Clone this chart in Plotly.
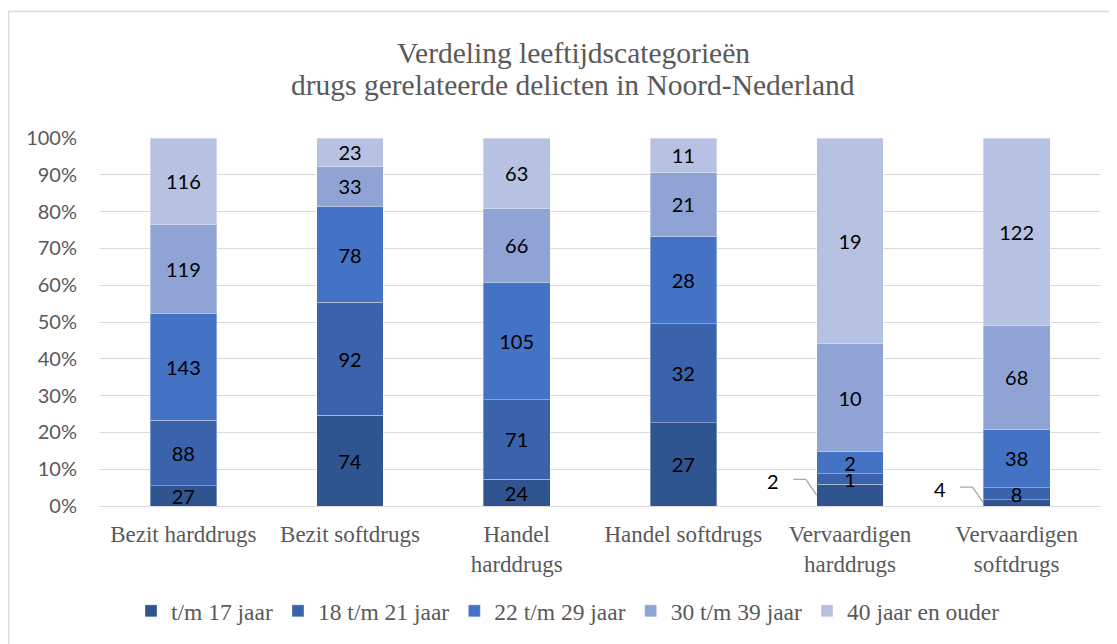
import plotly.graph_objects as go

categories = ["Bezit harddrugs", "Bezit softdrugs", "Handel<br>harddrugs",
              "Handel softdrugs", "Vervaardigen<br>harddrugs", "Vervaardigen<br>softdrugs"]
series_names = ["t/m 17 jaar", "18 t/m 21 jaar", "22 t/m 29 jaar", "30 t/m 39 jaar", "40 jaar en ouder"]
tm17 = [27, 74, 24, 27, 2, 4]
j18_21 = [88, 92, 71, 32, 1, 8]
j22_29 = [143, 78, 105, 28, 2, 38]
j30_39 = [119, 33, 66, 21, 10, 68]
j40plus = [116, 23, 63, 11, 19, 122]
ytick_vals = [0, 10, 20, 30, 40, 50, 60, 70, 80, 90, 100]
ytick_text = ["0%", "10%", "20%", "30%", "40%", "50%", "60%", "70%", "80%", "90%", "100%"]
title_lines = ["Verdeling leeftijdscategorieën", "drugs gerelateerde delicten in Noord-Nederland"]
# labels of the first segment drawn outside the bar with a leader line
outside_label_cats = [4, 5]

colors = ["#30548F", "#3A63AB", "#4472C4", "#8FA4D5", "#B7C2E3"]
series = [tm17, j18_21, j22_29, j30_39, j40plus]
xs = list(range(len(categories)))
totals = [sum(s[i] for s in series) for i in xs]

SANS = "Lato, Liberation Sans, sans-serif"
SERIF = "Liberation Serif, Times New Roman, serif"

fig = go.Figure()
for k, (name, vals) in enumerate(zip(series_names, series)):
    texts = []
    for i, v in enumerate(vals):
        if k == 0 and i in outside_label_cats:
            texts.append("")
        else:
            texts.append(str(v))
    fig.add_trace(go.Bar(
        x=xs, y=vals, name=name, text=texts,
        marker=dict(color=colors[k], line=dict(color="rgba(255,255,255,0.35)", width=1)),
        width=0.4, textposition="inside", insidetextanchor="middle", textangle=0,
        textfont=dict(family=SANS, size=20, color="#000000"),
        hoverinfo="skip",
    ))

# leader lines and outside labels
for i in outside_label_cats:
    mid = tm17[i] / totals[i] * 100 / 2
    yh = mid + 4.3
    fig.add_trace(go.Scatter(
        x=[i - 0.34, i - 0.265, i - 0.2], y=[yh, yh, mid], mode="lines",
        line=dict(color="#A6A6A6", width=1.3), showlegend=False, hoverinfo="skip"))
    fig.add_annotation(x=i - 0.34, y=yh, xref="x", yref="y", text=str(tm17[i]),
                       showarrow=False, xanchor="right", yanchor="middle", xshift=-12, yshift=-2,
                       font=dict(family=SANS, size=20, color="#000000"))

# two-line title as separate annotations (tight line spacing)
for line, ty in zip(title_lines, [1.232, 1.143]):
    fig.add_annotation(x=0.473, y=ty, xref="paper", yref="paper", text=line, showarrow=False,
                       xanchor="center", yanchor="middle",
                       font=dict(family=SERIF, size=29.5, color="#595959"))

fig.update_layout(
    barmode="stack", barnorm="percent",
    width=1109, height=636,
    margin=dict(l=92, r=17, t=130, b=137),
    paper_bgcolor="white", plot_bgcolor="white",
    xaxis=dict(tickvals=xs, ticktext=categories, range=[-0.5, 5.5], showgrid=False,
               showline=True, linecolor="#D9D9D9", linewidth=1,
               ticks="outside", ticklen=7, tickcolor="rgba(0,0,0,0)",
               tickfont=dict(family=SERIF, size=23, color="#595959"),
               zeroline=False),
    yaxis=dict(range=[0, 100], tickvals=ytick_vals, ticktext=ytick_text, showgrid=True,
               gridcolor="#D9D9D9", gridwidth=1, zeroline=False, showline=False,
               tickfont=dict(family=SANS, size=20, color="#595959"),
               ticks="outside", ticklen=18, tickcolor="rgba(0,0,0,0)"),
    legend=dict(orientation="h", x=0.468, xanchor="center", y=-0.282, yanchor="middle",
                font=dict(family=SERIF, size=23.5, color="#595959"),
                traceorder="normal", itemwidth=30),
    uniformtext=dict(minsize=20, mode="show"),
    shapes=[dict(type="rect", xref="paper", yref="paper", x0=-0.0915, x1=1.2, y0=-0.45, y1=1.344,
                 line=dict(color="#D9D9D9", width=1.5), fillcolor="rgba(0,0,0,0)", layer="above")],
)

fig.write_html("out.html")
